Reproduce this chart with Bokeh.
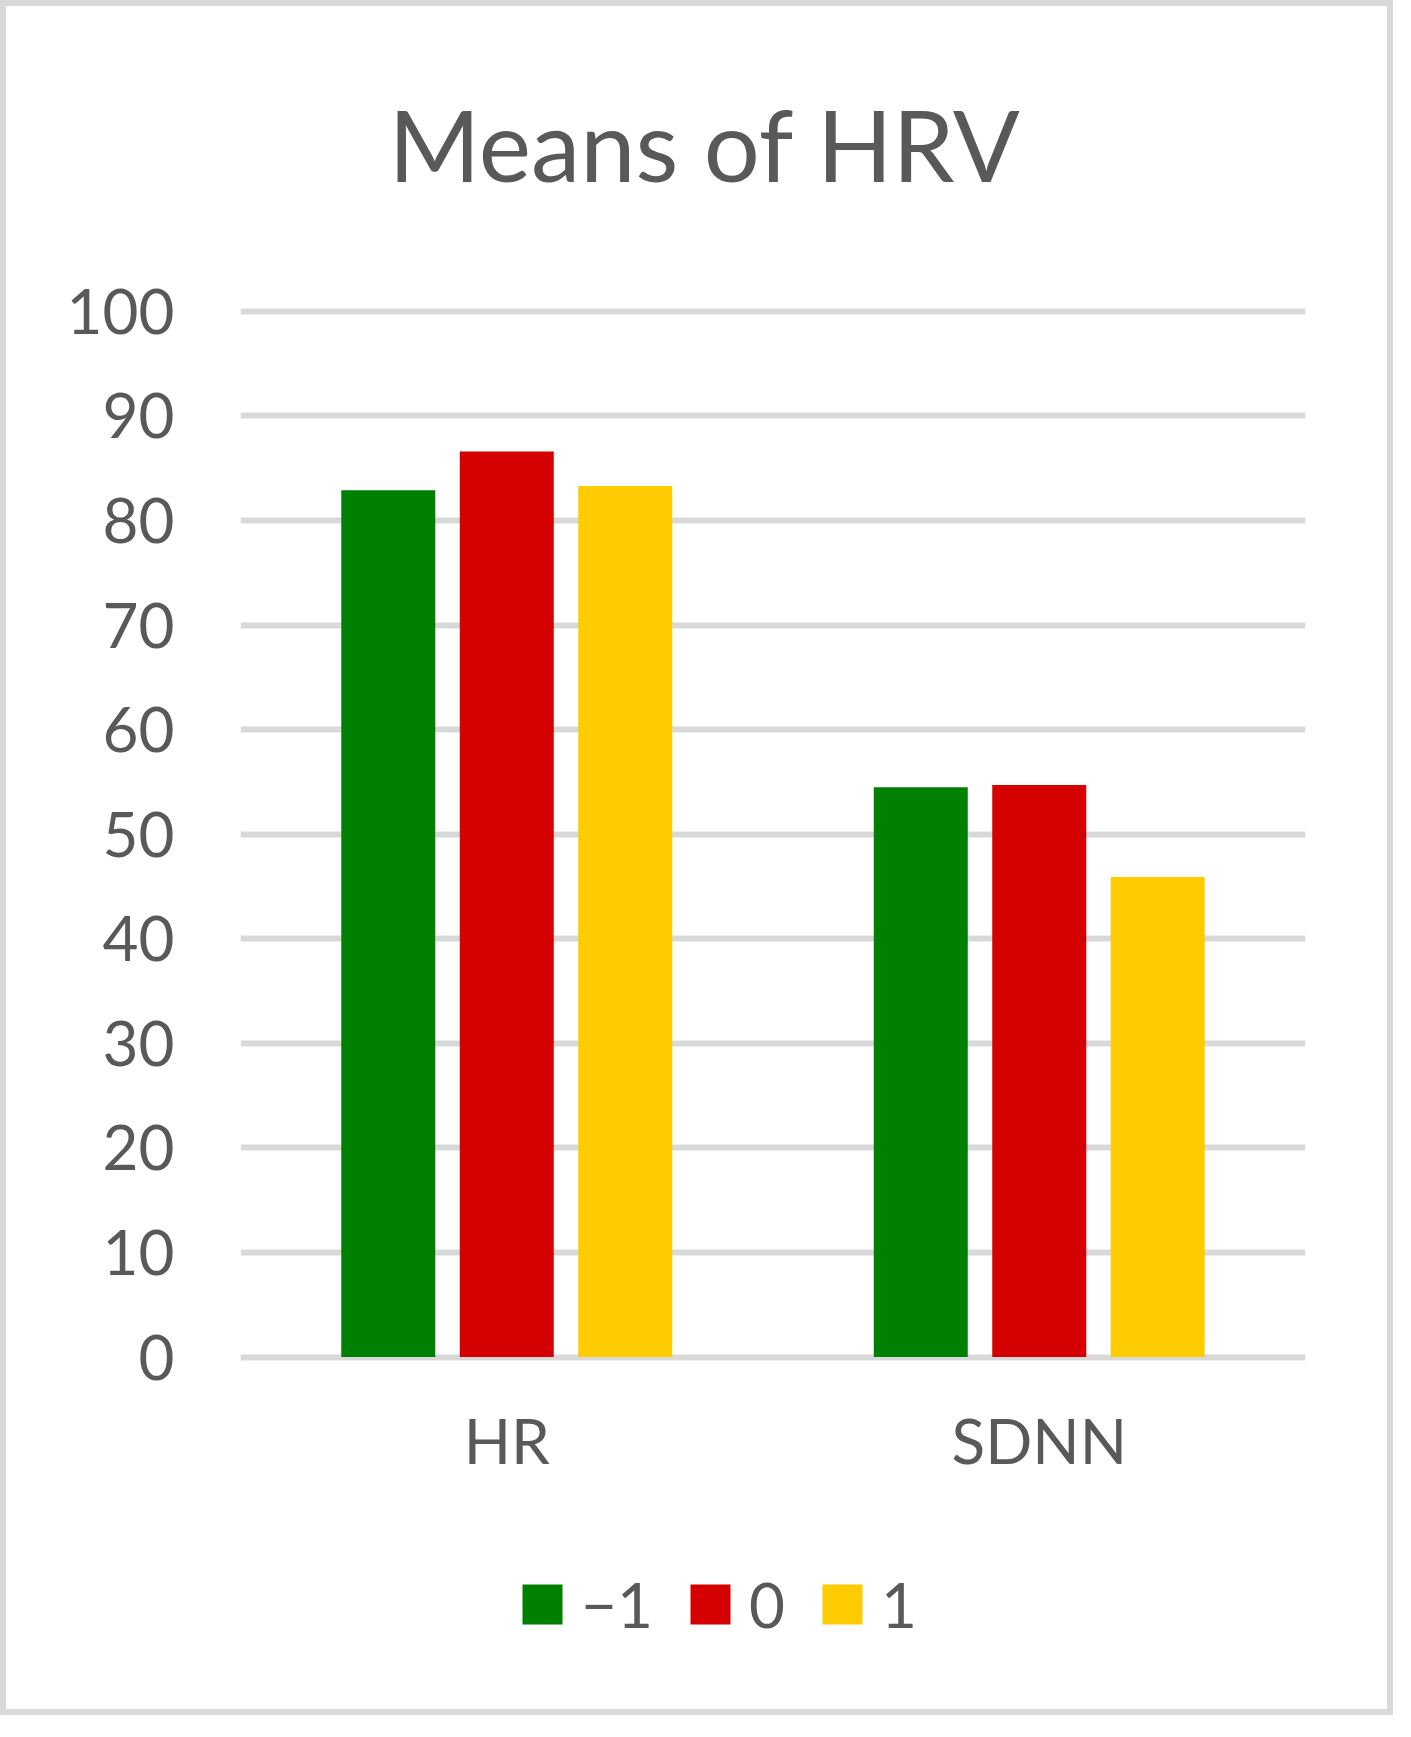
from bokeh.plotting import figure
from bokeh.models import (ColumnDataSource, FactorRange, Range1d, Legend, LegendItem,
                          FixedTicker, Label)
from bokeh.transform import dodge
from bokeh.embed import file_html
from bokeh.resources import INLINE

# ---- data ----
title_text = "Means of HRV"
categories = ["HR", "SDNN"]
series_names = ["\u22121", "0", "1"]
values_minus1 = [82.9, 54.5]
values_zero = [86.6, 54.7]
values_plus1 = [83.3, 45.9]
y_ticks = [0, 10, 20, 30, 40, 50, 60, 70, 80, 90, 100]

# ---- styles ----
colors = ["#008000", "#D50000", "#FFCC00"]
FONT = "Lato"
TXT = "#595959"
GRID = "#D9D9D9"

src = ColumnDataSource(dict(cat=categories, s0=values_minus1, s1=values_zero, s2=values_plus1))

# the frame spans the whole chart height so that title and legend sit inside it
p = figure(x_range=FactorRange(factors=categories), y_range=Range1d(-29.98, 129.16),
           width=1393, height=1715, output_backend="svg", toolbar_location=None,
           title_location=None,
           min_border_left=234, min_border_right=94, min_border_top=0, min_border_bottom=51)

offsets = [-0.2225, 0.0, 0.2225]
renderers = []
for col, off, c in zip(["s0", "s1", "s2"], offsets, colors):
    r = p.vbar(x=dodge("cat", off, range=p.x_range), top=col, bottom=0, width=0.1765,
               source=src, fill_color=c, line_color=None)
    renderers.append(r)

p.add_layout(Label(x=0.8723, y=116.1, text=title_text, text_align="center",
                   text_baseline="alphabetic", text_font=FONT, text_font_size="99px",
                   text_color=TXT))

p.outline_line_color = None
p.background_fill_color = "white"
p.border_fill_color = "white"

p.xgrid.grid_line_color = None
p.ygrid.grid_line_color = GRID
p.ygrid.grid_line_width = 6

for ax in (p.xaxis[0], p.yaxis[0]):
    ax.axis_line_color = None
    ax.major_tick_line_color = None
    ax.minor_tick_line_color = None
    ax.major_tick_out = 0
    ax.major_tick_in = 0
    ax.major_label_text_font = FONT
    ax.major_label_text_font_size = "62px"
    ax.major_label_text_color = TXT

p.yaxis[0].ticker = FixedTicker(ticks=y_ticks)
p.yaxis[0].major_label_standoff = 66
p.xaxis[0].major_label_standoff = -268

items = [LegendItem(label=n, renderers=[r]) for n, r in zip(series_names, renderers)]
legend = Legend(items=items, orientation="horizontal", location=(277, 29),
                glyph_width=50, glyph_height=50, label_standoff=14, spacing=32,
                padding=10, margin=0, border_line_color=None, background_fill_alpha=0,
                label_text_font=FONT, label_text_font_size="62px", label_text_color=TXT)
p.add_layout(legend, "center")

# chart-area border
p.styles = {"border": "6px solid #D9D9D9", "box-sizing": "border-box", "overflow": "hidden"}

open("out.html", "w").write(file_html(p, INLINE))
